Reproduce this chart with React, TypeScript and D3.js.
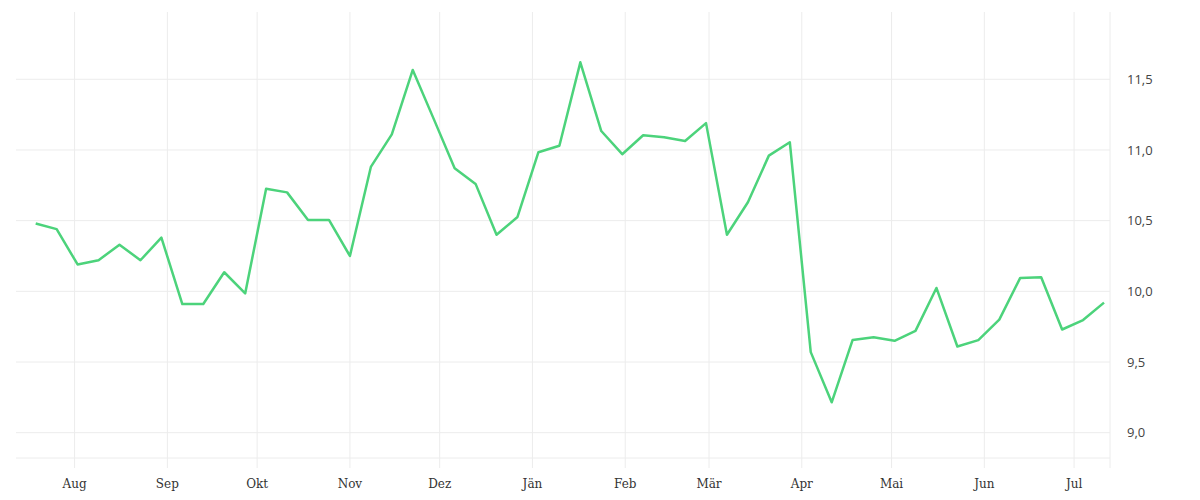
import React from "react";
import * as d3 from "d3";

// ---- data ----
const startDate = Date.UTC(2022, 6, 19); // first weekly observation
const values: number[] = [
  10.48, 10.44, 10.19, 10.22, 10.33, 10.22, 10.38, 9.91, 9.91, 10.135,
  9.985, 10.725, 10.7, 10.505, 10.505, 10.25, 10.88, 11.11, 11.566, 11.22,
  10.87, 10.76, 10.4, 10.526, 10.984, 11.03, 11.62, 11.134, 10.97, 11.104,
  11.09, 11.064, 11.19, 10.4, 10.63, 10.96, 11.055, 9.57, 9.215, 9.656,
  9.675, 9.65, 9.72, 10.024, 9.61, 9.655, 9.8, 10.095, 10.1, 9.73,
  9.797, 9.92,
];
const monthLabels: string[] = [
  "Jän", "Feb", "Mär", "Apr", "Mai", "Jun", "Jul", "Aug", "Sep", "Okt", "Nov", "Dez",
];
const yTicks: number[] = [9.0, 9.5, 10.0, 10.5, 11.0, 11.5];

const dates: Date[] = values.map((_, i) => new Date(startDate + i * 7 * 86400000));

const W = 1200;
const H = 500;
const left = 16;
const right = 1110;
const top = 12;
const bottom = 458;

export default function App() {
  const x = d3
    .scaleUtc()
    .domain([new Date(Date.UTC(2022, 6, 12, 10)), new Date(Date.UTC(2023, 6, 13))])
    .range([left, right]);
  const y = d3.scaleLinear().domain([8.821, 11.976]).range([bottom, top]);

  const monthTicks = d3.utcMonth.range(x.domain()[0], x.domain()[1]).filter((d) => d >= x.domain()[0]);
  const fmt = (v: number) => v.toFixed(1).replace(".", ",");

  const line = d3
    .line<number>()
    .x((_, i) => x(dates[i]))
    .y((d) => y(d));

  const grid = "#ececec";

  return (
    <svg
      width={W}
      height={H}
      style={{ position: "absolute", left: 0, top: 0, background: "#fff" }}
    >
      {/* horizontal gridlines */}
      {yTicks.map((t) => (
        <line key={"h" + t} x1={left} x2={right} y1={y(t)} y2={y(t)} stroke={grid} strokeWidth={1} />
      ))}
      {/* bottom baseline */}
      <line x1={left} x2={right} y1={bottom} y2={bottom} stroke={grid} strokeWidth={1} />
      {/* vertical month gridlines */}
      {monthTicks.map((d) => (
        <line key={"v" + d.getTime()} x1={x(d)} x2={x(d)} y1={top} y2={bottom + 10} stroke={grid} strokeWidth={1} />
      ))}
      {/* right border */}
      <line x1={right} x2={right} y1={top} y2={bottom + 10} stroke={grid} strokeWidth={1} />

      {/* y labels */}
      {yTicks.map((t) => (
        <text
          key={"yl" + t}
          x={1127}
          y={y(t)}
          dy="0.35em"
          fontFamily="'Open Sans', sans-serif"
          fontSize={13}
          fill="#444"
        >
          {fmt(t)}
        </text>
      ))}
      {/* x labels */}
      {monthTicks.map((d) => (
        <text
          key={"xl" + d.getTime()}
          x={x(d)}
          y={488}
          textAnchor="middle"
          fontFamily="'DejaVu Serif', serif"
          fontSize={12}
          fill="#333"
        >
          {monthLabels[d.getUTCMonth()]}
        </text>
      ))}

      {/* data line */}
      <path d={line(values) || ""} fill="none" stroke="#4cd37b" strokeWidth={2.5} strokeLinejoin="round" />
    </svg>
  );
}
